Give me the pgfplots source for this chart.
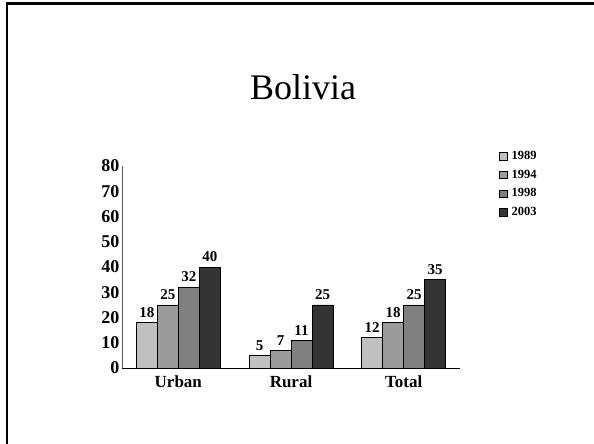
\documentclass[border=0pt]{standalone}
\usepackage{fontspec}
\setmainfont{Liberation Serif}
\usepackage{pgfplots}
\pgfplotsset{compat=1.18}

\definecolor{cA}{RGB}{192,192,192}
\definecolor{cB}{RGB}{155,155,155}
\definecolor{cC}{RGB}{128,128,128}
\definecolor{cD}{RGB}{52,52,52}

\begin{document}
\begin{tikzpicture}[x=1pt,y=1pt]
\path[use as bounding box] (0,0) rectangle (594,444);
% slide frame (top and left edges)
\draw[line width=2.6pt] (7,0) -- (7,440.5) -- (594,440.5);
% title
\node[font=\fontsize{36}{40}\selectfont] at (303,357) {Bolivia};

\begin{axis}[
  at={(122pt,76pt)}, anchor=south west,
  scale only axis,
  width=338pt, height=202pt,
  ymin=0, ymax=80,
  xmin=-0.5, xmax=2.5,
  ybar=0pt, bar width=21pt,
  axis x line=bottom, axis y line=left,
  axis line style={-},
  y axis line style={draw=gray!70!black, line width=0.6pt},
  x axis line style={draw=black, line width=0.8pt},
  xtick=data, xticklabels={Urban,Rural,Total},
  ytick={0,10,...,80},
  major tick length=0pt,
  /pgf/number format/assume math mode=true,
  yticklabel style={font=\fontsize{18}{19}\selectfont\bfseries, xshift=1pt},
  xticklabel style={font=\fontsize{17}{18}\selectfont\bfseries, yshift=-4pt},
  nodes near coords,
  nodes near coords style={font=\fontsize{15}{16}\selectfont\bfseries, yshift=1.5pt},
  every axis plot/.append style={draw=black, line width=0.6pt},
  legend style={at={(1.115,1.075)}, anchor=north west, draw=none, fill=none,
    font=\fontsize{12.5}{13}\selectfont\bfseries,
    row sep=9pt, inner sep=0pt, nodes={inner xsep=4.5pt, inner ysep=0pt}},
  legend image code/.code={\draw[#1, line width=0.5pt] (0pt,-3.8pt) rectangle (7.6pt,3.8pt);},
  legend cell align=left,
]
\addplot[fill=cA] coordinates {(0,18) (1,5) (2,12)};
\addplot[fill=cB] coordinates {(0,25) (1,7) (2,18)};
\addplot[fill=cC] coordinates {(0,32) (1,11) (2,25)};
\addplot[fill=cD] coordinates {(0,40) (1,25) (2,35)};
\legend{1989,1994,1998,2003}
\end{axis}
\end{tikzpicture}
\end{document}
